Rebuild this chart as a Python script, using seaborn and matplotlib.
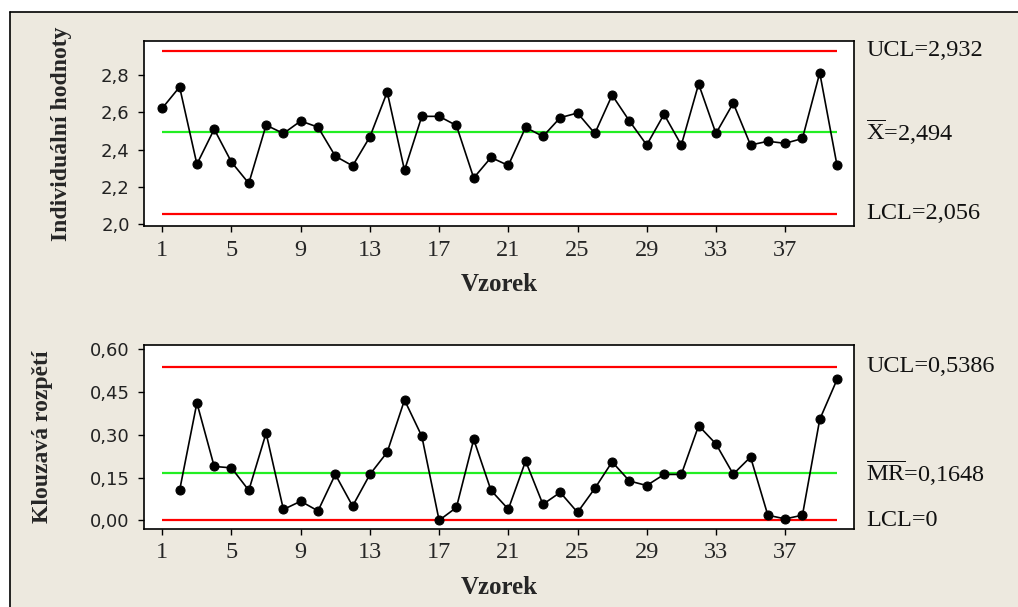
import matplotlib
matplotlib.use("Agg")
import matplotlib.pyplot as plt
import matplotlib.transforms as mtransforms
from matplotlib.patches import Rectangle
from matplotlib.lines import Line2D
import seaborn as sns

# Individual measurements for samples 1..40
samples = list(range(1, 41))
individual_values = [2.623, 2.737, 2.322, 2.510, 2.333, 2.219, 2.532, 2.487, 2.554, 2.521,
                     2.365, 2.313, 2.469, 2.710, 2.289, 2.579, 2.579, 2.530, 2.248, 2.358,
                     2.315, 2.520, 2.471, 2.572, 2.597, 2.487, 2.693, 2.554, 2.425, 2.590,
                     2.425, 2.753, 2.487, 2.650, 2.425, 2.445, 2.434, 2.460, 2.813, 2.315]

# Moving ranges for samples 2..40
mr_samples = list(range(2, 41))
moving_ranges = [0.105, 0.412, 0.189, 0.184, 0.105, 0.306, 0.038, 0.067, 0.033,
                 0.161, 0.050, 0.161, 0.239, 0.422, 0.295, 0.000, 0.045, 0.284, 0.105,
                 0.039, 0.208, 0.056, 0.098, 0.028, 0.112, 0.205, 0.138, 0.122, 0.161,
                 0.161, 0.332, 0.268, 0.162, 0.222, 0.018, 0.005, 0.018, 0.354, 0.494]

# Control limits
i_ucl, i_center, i_lcl = 2.932, 2.494, 2.056
mr_ucl, mr_center, mr_lcl = 0.5386, 0.1648, 0.0

i_limit_labels = ["UCL=2,932", r"$\overline{\mathrm{X}}$=2,494", "LCL=2,056"]
mr_limit_labels = ["UCL=0,5386", r"$\overline{\mathrm{MR}}$=0,1648", "LCL=0"]

x_ticks = [1, 5, 9, 13, 17, 21, 25, 29, 33, 37]
i_ticks = [2.0, 2.2, 2.4, 2.6, 2.8]
mr_ticks = [0.00, 0.15, 0.30, 0.45, 0.60]

x_label = "Vzorek"
i_ylabel = "Individuální hodnoty"
mr_ylabel = "Klouzavá rozpětí"

sns.set_style("ticks")
plt.rcParams["font.family"] = ["DejaVu Sans"]
plt.rcParams["mathtext.fontset"] = "custom"
plt.rcParams["mathtext.rm"] = "Liberation Serif"
plt.rcParams["mathtext.it"] = "Liberation Serif:italic"
plt.rcParams["mathtext.bf"] = "Liberation Serif:bold"

W, H = 1018, 607
BEIGE = "#EDE9DF"
fig = plt.figure(figsize=(W / 100, H / 100), dpi=100, facecolor=BEIGE)

# white margin on the left and top, then a dark frame line along the panel edge
x0, y1 = 10 / W, 1 - 12 / H
fig.patches.append(Rectangle((-0.1, -0.1), x0 + 0.1, 1.2, transform=fig.transFigure,
                             facecolor="white", edgecolor="none", zorder=-10))
fig.patches.append(Rectangle((-0.1, y1), 1.3, 0.2, transform=fig.transFigure,
                             facecolor="white", edgecolor="none", zorder=-10))
fig.add_artist(Line2D([x0, x0], [-0.1, y1], transform=fig.transFigure,
                      color="black", linewidth=1.2, zorder=-9))
fig.add_artist(Line2D([x0, 1.1], [y1, y1], transform=fig.transFigure,
                      color="black", linewidth=1.2, zorder=-9))

LIMIT_RED = "#FF0000"
GREEN = "#22EE22"
SERIF = "Liberation Serif"


def draw_panel(ax, xs, ys, limits, limit_labels, yticks, ylim, ylabel, ylabel_x, yfmt):
    ax.set_facecolor("white")
    ucl, center, lcl = limits
    ax.hlines([ucl, lcl], 1, 40, colors=LIMIT_RED, linewidth=1.6, zorder=2)
    ax.hlines([center], 1, 40, colors=GREEN, linewidth=1.6, zorder=2)
    sns.lineplot(x=xs, y=ys, ax=ax, color="black", linewidth=1.2, marker="o",
                 markersize=6.5, markeredgecolor="black", markerfacecolor="black", zorder=3)
    ax.set_xlim(-0.04, 40.98)
    ax.set_ylim(*ylim)
    ax.set_xticks(x_ticks)
    ax.set_xticklabels([str(t) for t in x_ticks], fontfamily=SERIF, fontsize=17.5)
    ax.set_yticks(yticks)
    ax.set_yticklabels([yfmt.format(t).replace(".", ",") for t in yticks],
                       fontfamily="DejaVu Sans", fontsize=13, color="#222222")
    ax.tick_params(axis="both", direction="out", length=4.5, width=1.0, color="black")
    ax.tick_params(axis="y", pad=6)
    ax.tick_params(axis="x", pad=5)
    for s in ax.spines.values():
        s.set_visible(True)
        s.set_color("black")
        s.set_linewidth(1.2)

    ax.set_xlabel(x_label, fontfamily=SERIF, fontweight="bold", fontsize=18)
    ax.xaxis.label.set_va("center")
    ax.xaxis.set_label_coords(0.5, -0.314)
    ax.set_ylabel(ylabel, fontfamily=SERIF, fontweight="bold", fontsize=17)
    ax.yaxis.label.set_va("center")
    ax.yaxis.set_label_coords(ylabel_x, 0.5)

    trans = mtransforms.blended_transform_factory(ax.transAxes, ax.transData)
    for val, lab in zip(limits, limit_labels):
        ax.text(1.017, val, lab, transform=trans, ha="left", va="center",
                fontfamily=SERIF, fontsize=17.5, color="#111111")


ax_i = fig.add_axes([144.3 / W, 1 - 226.5 / H, (854 - 144.3) / W, (226.5 - 41) / H])
ax_mr = fig.add_axes([144.3 / W, 1 - 529.3 / H, (854 - 144.3) / W, (529.3 - 345) / H])

draw_panel(ax_i, samples, individual_values, (i_ucl, i_center, i_lcl), i_limit_labels,
           i_ticks, (1.987, 2.984), i_ylabel, -0.116, "{:.1f}")
draw_panel(ax_mr, mr_samples, moving_ranges, (mr_ucl, mr_center, mr_lcl), mr_limit_labels,
           mr_ticks, (-0.0315, 0.615), mr_ylabel, -0.143, "{:.2f}")

fig.savefig("out.png", dpi=100, facecolor=fig.get_facecolor())
